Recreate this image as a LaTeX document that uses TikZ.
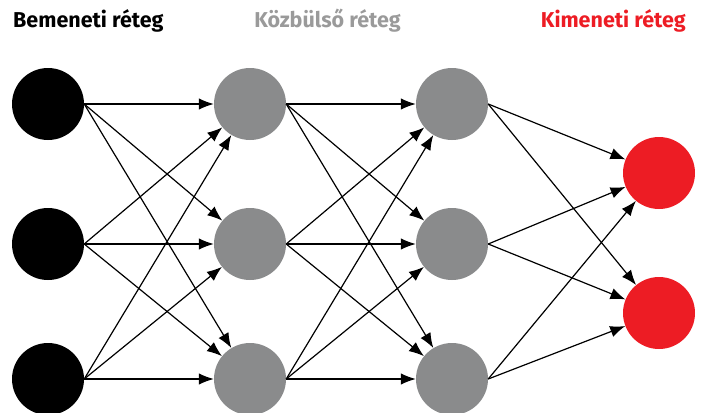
\documentclass[tikz,border=0pt]{standalone}
\usepackage{fontspec}
\setmainfont{Fira Sans}
\usetikzlibrary{arrows.meta}
\definecolor{nodegray}{HTML}{8A8B8C}
\definecolor{titlegray}{HTML}{9A9A9A}
\definecolor{outred}{HTML}{ED1C24}
\tikzset{
  neuron/.style={circle, draw=none, minimum size=72pt, inner sep=0pt},
  innode/.style={neuron, fill=black},
  hidnode/.style={neuron, fill=nodegray},
  outnode/.style={neuron, fill=outred},
  link/.style={line width=1.2pt, draw=black, -{Latex[length=15pt,width=11.5pt]}},
  title/.style={font=\bfseries\fontsize{21.5}{25}\selectfont, inner sep=0pt}
}
\begin{document}
\begin{tikzpicture}[x=1pt,y=-1pt]
\useasboundingbox (0,0) rectangle (706,412);
\clip (0,0) rectangle (706,412);
\node[title, anchor=base west, text=black] (t1) at (13,28) {Bemeneti réteg};
\node[title, anchor=base, text=titlegray] (t2) at (327.5,28) {Közbülső réteg};
\node[title, anchor=base east, text=outred] (t3) at (686,28) {Kimeneti réteg};
\foreach \i/\y in {1/104,2/244,3/379}{
  \node[innode] (i\i) at (48,\y) {};
  \node[hidnode] (a\i) at (250,\y) {};
  \node[hidnode] (b\i) at (452,\y) {};
}
\node[outnode] (o1) at (659,173) {};
\node[outnode] (o2) at (659,313) {};
\foreach \s in {1,2,3}{
  \foreach \t in {1,2,3}{
    \draw[link] (i\s.east) -- (a\t);
    \draw[link] (a\s.east) -- (b\t);
  }
  \foreach \t in {1,2}{
    \draw[link] (b\s.east) -- (o\t);
  }
}
\end{tikzpicture}
\end{document}
